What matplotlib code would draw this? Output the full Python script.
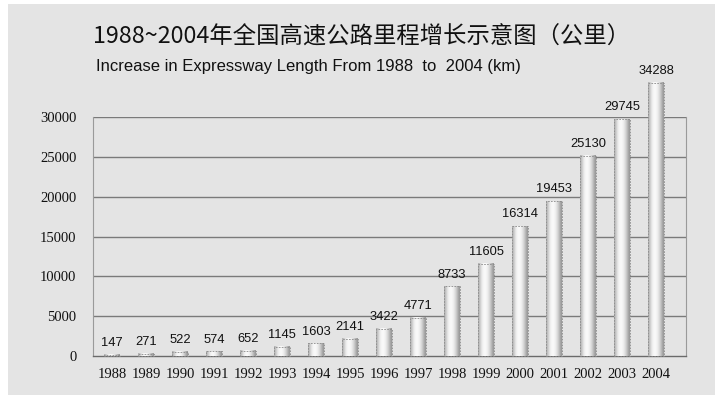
import matplotlib.pyplot as plt
import numpy as np
from matplotlib.patches import Rectangle

# 数据
years = ['1988', '1989', '1990', '1991', '1992', '1993', '1994', '1995', '1996',
         '1997', '1998', '1999', '2000', '2001', '2002', '2003', '2004']
lengths = [147, 271, 522, 574, 652, 1145, 1603, 2141, 3422,
           4771, 8733, 11605, 16314, 19453, 25130, 29745, 34288]
yticks = [0, 5000, 10000, 15000, 20000, 25000, 30000]

bg = '#e4e4e4'

fig = plt.figure(figsize=(7.15, 3.95), dpi=100, facecolor='white')
# серый фон скана
fig.patches.append(Rectangle((8 / 715, 0), 1, 1 - 4 / 395, transform=fig.transFigure,
                             facecolor=bg, edgecolor='none', zorder=-10))

ax = fig.add_axes([93 / 715, 1 - 356 / 395, 593 / 715, 239 / 395])
ax.set_facecolor(bg)

x = np.arange(len(years))
bars = ax.bar(x, lengths, width=0.47, facecolor='none', edgecolor='#8a8a8a',
              linestyle=(0, (2, 1.5)), linewidth=0.6, zorder=4, clip_on=False)

# градиент цилиндра
prof = np.array([0.70, 0.80, 0.90, 0.96, 0.98, 0.97, 0.94, 0.88, 0.80, 0.70, 0.60])
grad = prof.reshape(1, -1)
for b in bars:
    x0, w, h = b.get_x(), b.get_width(), b.get_height()
    ax.imshow(grad, cmap='gray', vmin=0, vmax=1, aspect='auto',
              extent=(x0, x0 + w, 0, h), interpolation='bicubic',
              zorder=3, clip_on=False)

# подписи значений
for xi, v in zip(x, lengths):
    ax.annotate(str(v), (xi, v), xytext=(0, 4), textcoords='offset points',
                ha='center', va='bottom', fontsize=9.3, family='Liberation Sans',
                color='#111111', zorder=5, annotation_clip=False)

for yv in yticks[1:]:
    ax.axhline(yv, color='#7a7a7a', lw=1.0, zorder=1)

ax.set_xlim(-0.56, 16.88)
ax.set_ylim(0, 30000)
ax.set_xticks(x)
ax.set_xticklabels(years, family='Liberation Serif', fontsize=10.5, color='#111111')
ax.set_yticks(yticks)
ax.set_yticklabels([str(t) for t in yticks], family='Liberation Serif',
                   fontsize=10.5, color='#111111')
ax.tick_params(length=0, pad=9)
ax.tick_params(axis='y', pad=12)
for s in ['left', 'right']:
    ax.spines[s].set_color('#9a9a9a')
    ax.spines[s].set_linewidth(0.8)
ax.spines['bottom'].set_color('#6a6a6a')
ax.spines['bottom'].set_linewidth(1.0)
ax.spines['top'].set_visible(False)

fig.text(93 / 715, 1 - 37 / 395, '1988~2004年全国高速公路里程增长示意图（公里）',
         family=['Noto Sans CJK SC', 'DejaVu Sans'], fontsize=16.8, color='#111111',
         va='center', ha='left')
fig.text(96 / 715, 1 - 67 / 395, 'Increase in Expressway Length From 1988  to  2004 (km)',
         family='Liberation Sans', fontsize=12, color='#111111', va='center', ha='left')

fig.savefig('out.png', dpi=100, facecolor=fig.get_facecolor())
